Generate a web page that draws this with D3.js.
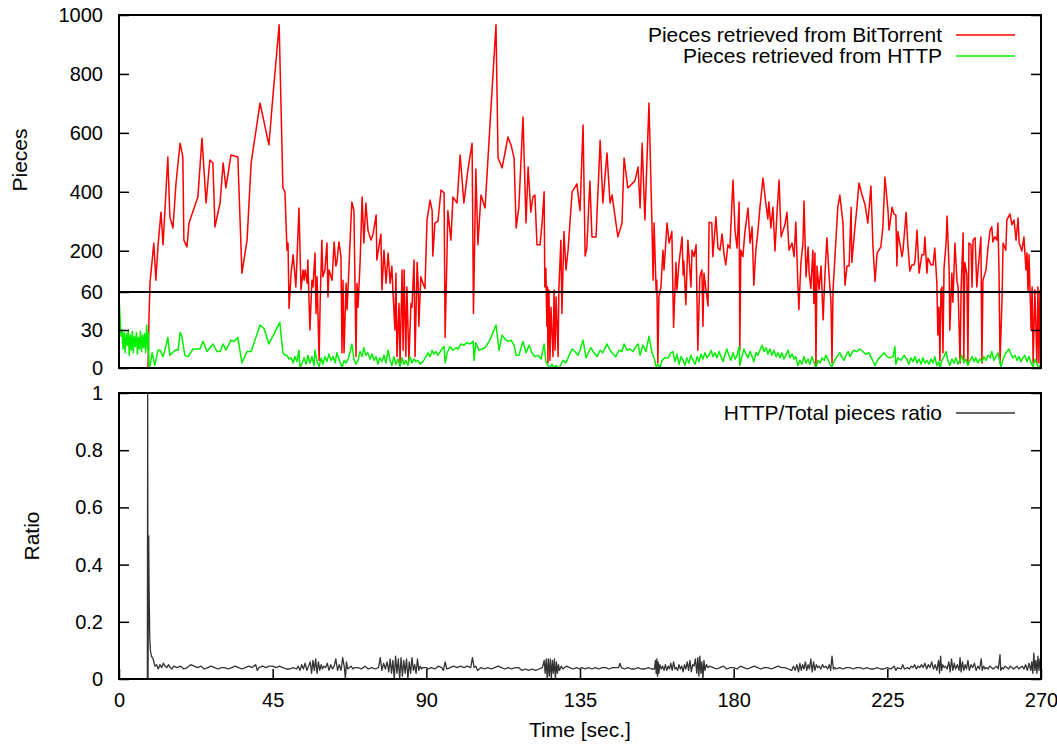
<!DOCTYPE html>
<html>
<head>
<meta charset="utf-8">
<script src="https://cdn.jsdelivr.net/npm/d3@7"></script>
<style>
  html, body { margin: 0; padding: 0; background: #fff; }
  svg { display: block; font-family: "Liberation Sans", Arial, Helvetica, sans-serif; }
</style>
</head>
<body>
<svg id="chart" width="1057" height="744"></svg>
<script>
// ---------------- DATA ----------------
const xTickValues = [0, 45, 90, 135, 180, 225, 270];
const piecesTickValues = [0, 30, 60, 200, 400, 600, 800, 1000];
const ratioTickValues = [0, 0.2, 0.4, 0.6, 0.8, 1];
const legendTop = ["Pieces retrieved from BitTorrent", "Pieces retrieved from HTTP"];
const legendBottom = ["HTTP/Total pieces ratio"];

// [time (sec), pieces]
const bitTorrent = [[0,0],[8.5,0],[8.8,42],[9.1,94],[10.2,226],[10.8,100],[11.4,213],[12.3,331],[12.9,220],[14.3,518],[14.9,315],[15.8,277],[16.7,430],[17.9,565],[18.7,518],[19.0,236],[19.9,213],[20.5,294],[23.1,382],[24.3,582],[25.5,362],[26.6,508],[27.5,498],[28.1,281],[29.6,362],[30.5,498],[31.3,413],[32.8,525],[34.8,518],[36.0,124],[37.5,236],[38.7,498],[41.3,701],[43.9,559],[45.1,728],[46.9,967],[48.0,413],[48.6,400],[49.2,202],[49.5,226],[49.8,47],[50.4,124],[51.0,186],[51.8,77],[52.7,345],[53.3,67],[53.9,135],[54.2,100],[54.5,135],[55.1,90],[55.3,169],[55.9,30],[56.5,100],[56.8,77],[57.4,192],[57.7,43],[58.0,112],[58.6,6],[58.9,51],[59.4,236],[59.7,112],[60.3,135],[60.9,226],[61.2,56],[61.5,135],[62.4,100],[63.0,230],[63.5,148],[63.8,160],[64.4,230],[65.0,180],[65.3,12],[65.6,100],[65.9,12],[66.5,90],[66.8,46],[67.4,160],[67.9,294],[68.2,365],[68.8,336],[69.4,9],[69.7,90],[70.0,48],[70.6,160],[71.2,382],[71.7,226],[72.3,362],[72.9,270],[73.8,236],[74.4,257],[75.3,321],[75.5,169],[76.1,213],[76.7,257],[77.0,67],[77.6,202],[78.2,90],[78.8,192],[79.4,90],[79.9,148],[80.2,67],[80.8,30],[81.1,124],[81.4,9],[82.0,51],[82.3,4],[82.9,135],[83.2,14],[83.5,135],[84.0,9],[84.3,77],[84.9,6],[85.5,51],[85.8,48],[86.4,169],[86.7,9],[87.3,160],[87.6,90],[87.8,33],[88.4,112],[89.0,90],[89.6,72],[90.2,304],[91.1,372],[91.7,336],[91.9,182],[92.5,294],[93.4,300],[94.3,406],[95.2,396],[95.5,24],[96.0,160],[96.3,336],[97.2,236],[97.8,382],[99.0,362],[99.9,525],[101.0,362],[102.2,477],[103.4,565],[103.8,43],[104.5,477],[105.1,220],[106.0,389],[107.2,345],[108.6,620],[110.4,967],[111.0,515],[112.2,481],[113.9,586],[114.8,559],[115.7,515],[116.3,277],[117.1,348],[118.3,654],[119.2,294],[119.8,484],[120.6,331],[121.2,382],[121.8,389],[122.4,220],[123.3,220],[123.9,294],[124.5,400],[124.7,77],[125.0,141],[125.3,33],[125.5,77],[125.6,4],[125.9,67],[126.2,6],[126.5,48],[127.1,9],[127.4,67],[127.7,14],[128.0,56],[128.6,9],[128.8,67],[129.4,236],[129.7,43],[130.3,265],[130.9,135],[131.5,202],[132.7,400],[134.1,427],[135.0,336],[135.9,627],[136.5,182],[137.0,209],[137.9,437],[138.5,247],[139.7,247],[140.9,575],[141.7,362],[142.9,532],[143.8,362],[144.4,389],[145.2,321],[146.1,247],[147.3,294],[147.9,515],[149.0,413],[151.1,437],[152.0,484],[152.6,345],[153.2,565],[154.0,304],[155.2,701],[156.1,281],[156.4,100],[156.7,294],[157.3,60],[157.5,100],[157.8,4],[158.1,56],[158.7,77],[159.3,202],[159.6,135],[160.5,294],[161.1,226],[161.9,265],[162.4,32],[163.1,160],[163.4,67],[164.0,160],[164.9,247],[165.2,118],[165.4,165],[166.0,50],[166.6,236],[167.5,77],[167.8,202],[168.4,180],[169.0,220],[169.5,14],[170.1,112],[170.7,135],[171.0,33],[171.3,124],[171.9,67],[172.5,49],[172.8,297],[173.6,294],[173.9,180],[174.8,315],[175.4,209],[176.0,202],[176.6,257],[177.2,186],[177.7,152],[178.3,220],[178.9,209],[179.8,440],[180.4,270],[181.0,209],[181.6,365],[181.8,14],[182.1,202],[182.7,180],[183.3,265],[184.2,345],[184.8,226],[185.4,281],[185.9,83],[186.5,202],[187.1,265],[187.7,348],[188.6,447],[189.2,382],[190.0,308],[190.3,365],[190.9,277],[191.5,348],[192.1,199],[192.7,331],[193.3,440],[193.9,247],[195.0,288],[195.6,331],[196.2,202],[197.1,226],[197.7,180],[198.2,297],[198.8,90],[199.1,46],[199.7,160],[200.3,226],[200.6,369],[201.2,112],[201.8,213],[202.1,124],[202.6,72],[203.2,202],[203.5,51],[203.8,192],[204.1,1],[204.4,148],[205.0,67],[205.6,148],[206.2,38],[206.7,112],[207.3,244],[207.9,124],[208.5,52],[208.8,4],[209.1,67],[210.0,247],[210.5,348],[211.1,389],[212.0,294],[212.6,83],[213.2,148],[213.8,148],[214.4,348],[214.6,160],[215.5,277],[216.1,348],[216.7,430],[217.6,389],[218.5,355],[219.3,294],[220.2,420],[220.8,213],[221.4,96],[222.0,192],[223.1,213],[223.7,281],[224.3,450],[225.2,336],[225.5,270],[226.4,348],[226.9,325],[227.5,321],[227.8,148],[228.1,265],[229.3,180],[229.6,202],[230.5,331],[231.0,220],[231.6,131],[232.2,152],[232.8,152],[233.1,165],[233.7,270],[234.3,124],[235.1,186],[235.7,186],[236.0,247],[236.6,124],[236.9,175],[237.8,152],[238.4,152],[238.9,209],[239.5,90],[239.8,26],[240.1,48],[240.4,6],[240.7,67],[241.0,77],[241.3,12],[241.6,141],[242.2,226],[242.5,318],[243.1,135],[243.3,30],[243.9,124],[244.2,52],[244.8,226],[245.4,96],[245.7,77],[246.3,4],[246.6,67],[247.2,260],[247.4,6],[247.7,160],[248.3,118],[248.6,4],[248.9,226],[249.5,220],[249.8,77],[250.1,236],[250.7,244],[251.2,77],[251.5,124],[252.4,247],[252.7,4],[253.0,100],[253.9,135],[254.5,213],[255.1,270],[255.6,281],[255.9,230],[256.5,247],[257.1,236],[257.4,294],[257.7,135],[258.0,4],[258.6,56],[258.9,226],[259.7,202],[260.0,304],[260.9,325],[261.5,288],[262.1,304],[262.7,236],[263.3,311],[263.6,226],[264.4,199],[265.0,247],[265.6,135],[265.9,192],[266.2,60],[266.5,186],[267.1,30],[267.4,77],[267.7,4],[268.2,67],[268.8,4],[269.1,77],[269.4,4],[269.7,67]];

// [time (sec), pieces]
const http = [[0,57],[0.3,40],[0.6,25],[0.9,30],[1.2,15],[1.5,28],[1.8,12],[2.1,27],[2.4,18],[2.7,30],[3.0,10],[3.3,26],[3.6,14],[3.9,29],[4.2,12],[4.5,25],[4.8,17],[5.1,28],[5.4,11],[5.7,24],[6.0,15],[6.3,29],[6.6,13],[6.9,26],[7.2,16],[7.5,27],[7.8,12],[8.1,34],[8.4,14],[8.6,28],[8.8,0],[9.1,2],[9.7,12],[10.5,2],[11.4,14],[12.0,14],[12.9,9],[13.8,18],[14.3,24],[14.9,10],[16.4,14],[17.3,14],[17.9,28],[18.4,25],[19.3,10],[20.2,9],[21.7,15],[23.7,15],[24.6,21],[25.8,13],[27.5,19],[28.7,13],[29.6,13],[30.5,19],[31.3,14],[32.8,22],[33.7,21],[34.8,24],[36.0,4],[37.5,13],[38.7,13],[41.3,34],[42.5,31],[43.9,19],[47.1,36],[48.0,12],[48.6,10],[49.2,10],[49.8,7],[50.4,8],[51.0,4],[51.5,9],[52.1,5],[52.7,14],[53.0,0],[53.6,4],[54.2,8],[54.8,3],[55.3,10],[55.9,4],[56.5,9],[57.1,2],[57.4,14],[58.0,5],[58.6,1],[59.2,8],[59.7,3],[60.3,9],[60.9,5],[61.5,11],[62.1,6],[62.7,9],[63.3,4],[63.8,12],[64.4,7],[65.0,3],[65.3,0],[65.9,6],[66.5,4],[67.1,7],[67.6,12],[68.2,19],[68.8,7],[69.4,3],[70.0,6],[70.6,13],[71.2,9],[71.7,16],[72.3,10],[72.9,12],[73.5,7],[74.1,11],[74.7,6],[75.3,9],[75.8,3],[76.4,8],[77.0,5],[77.6,10],[78.2,4],[78.8,14],[79.4,6],[79.9,2],[80.5,9],[81.1,3],[81.7,7],[82.3,1],[82.9,8],[83.5,3],[84.0,6],[84.6,2],[85.2,9],[85.8,4],[86.4,7],[87.0,5],[87.6,6],[88.1,3],[89.0,5],[89.9,9],[90.5,12],[91.1,9],[91.7,14],[92.2,11],[92.8,13],[93.4,10],[94.3,14],[95.2,17],[95.5,4],[96.0,11],[96.9,17],[97.8,14],[98.7,16],[99.3,15],[100.1,19],[101.0,18],[101.9,20],[102.8,19],[103.7,21],[104.0,6],[104.5,20],[105.4,14],[106.3,15],[107.2,16],[108.6,22],[110.4,34],[111.3,14],[112.2,26],[113.0,23],[113.9,21],[114.8,22],[115.7,18],[116.3,10],[117.1,10],[118.3,21],[119.2,12],[120.1,18],[120.9,12],[121.8,9],[122.7,10],[123.6,7],[124.5,19],[125.0,5],[125.6,2],[126.2,0],[126.8,3],[127.4,0],[128.0,2],[128.6,0],[129.1,1],[130.0,6],[130.9,4],[131.8,10],[132.7,15],[133.5,13],[134.4,10],[135.0,14],[135.9,22],[136.8,8],[137.6,13],[138.2,16],[139.1,12],[140.0,9],[140.9,14],[141.7,12],[142.9,19],[143.8,14],[144.7,11],[145.5,9],[146.4,14],[147.3,13],[147.9,19],[148.8,14],[149.6,15],[150.5,13],[151.4,17],[152.0,19],[152.6,10],[153.4,18],[154.3,13],[155.2,25],[156.1,12],[156.7,8],[157.3,1],[157.8,3],[158.4,0],[159.0,6],[159.9,8],[160.8,8],[161.6,12],[162.2,13],[162.8,5],[163.4,11],[164.0,3],[164.6,9],[165.2,6],[165.7,2],[166.3,8],[166.9,4],[167.5,10],[168.1,6],[168.7,3],[169.3,9],[169.9,5],[170.4,11],[171.0,7],[171.6,12],[172.2,8],[172.8,10],[173.4,14],[173.9,9],[174.5,12],[175.1,8],[175.7,13],[176.3,9],[176.9,5],[177.5,11],[178.0,15],[178.6,10],[179.2,6],[179.8,12],[180.4,7],[181.0,10],[181.6,17],[181.8,2],[182.4,9],[183.0,15],[183.6,11],[184.2,8],[184.8,13],[185.4,9],[185.9,5],[186.5,12],[187.1,10],[187.7,14],[188.3,18],[188.9,13],[189.5,16],[190.0,11],[190.6,15],[191.2,10],[191.8,14],[192.4,9],[193.0,12],[193.6,8],[194.1,12],[194.7,7],[195.3,10],[195.9,14],[196.5,8],[197.1,11],[197.7,7],[198.2,9],[198.8,2],[199.4,6],[200.0,3],[200.6,9],[201.2,4],[201.8,7],[202.3,3],[202.9,9],[203.5,5],[204.1,0],[204.7,6],[205.3,4],[205.9,8],[206.5,6],[207.0,10],[207.6,7],[208.2,3],[208.8,1],[209.4,5],[210.0,8],[210.5,10],[211.1,12],[211.7,9],[212.3,6],[212.9,10],[213.5,13],[214.1,9],[214.6,12],[215.2,14],[216.1,13],[216.9,15],[217.8,13],[218.7,11],[219.6,12],[220.5,7],[221.4,2],[222.3,7],[223.1,9],[224.0,12],[224.9,9],[225.8,8],[226.7,9],[227.2,17],[227.5,3],[228.1,8],[229.0,6],[229.9,10],[230.7,7],[231.3,3],[231.9,8],[232.5,5],[233.1,9],[233.7,4],[234.3,7],[234.9,3],[235.4,8],[236.0,4],[236.6,6],[237.2,3],[237.8,7],[238.4,4],[238.9,9],[239.5,2],[240.1,5],[240.4,0],[241.0,6],[241.6,9],[242.2,13],[242.7,6],[243.3,2],[243.9,7],[244.5,4],[245.1,8],[245.7,3],[246.3,6],[246.8,10],[247.4,4],[248.0,7],[248.6,2],[249.2,6],[249.8,9],[250.4,5],[250.9,8],[251.5,4],[252.1,7],[252.7,5],[253.3,9],[253.9,6],[254.5,10],[255.1,8],[255.6,13],[256.2,6],[256.8,9],[257.4,12],[258.0,4],[258.3,1],[258.9,7],[259.7,12],[260.6,15],[261.2,11],[261.8,8],[262.4,10],[263.0,6],[263.6,9],[264.1,5],[264.7,8],[265.3,10],[265.9,5],[266.5,9],[267.1,4],[267.7,1],[268.2,7],[268.8,3],[269.4,0],[270.0,4]];

// [time (sec), HTTP / total ratio]
const ratio = [[0,0],[8.3,0],[8.4,1.0],[8.5,0],[8.7,0.5],[8.8,0.33],[9.0,0.15],[9.2,0.1],[9.5,0.08],[10,0.07],[10.5,0.045],[11,0.05],[11.5,0.035],[12,0.05],[12.5,0.04],[13,0.055],[13.5,0.045],[14,0.04],[14.5,0.05],[15,0.04],[15.5,0.035],[16,0.045],[17,0.04],[18,0.045],[19,0.035],[20,0.04],[21,0.05],[22,0.045],[23,0.04],[24,0.045],[25,0.035],[26,0.04],[27,0.045],[28,0.04],[29,0.035],[30,0.04],[31,0.04],[32,0.035],[33,0.04],[34,0.045],[35,0.04],[36,0.035],[37,0.04],[38,0.045],[39,0.04],[40,0.05],[40.5,0.03],[41,0.04],[42,0.045],[43,0.04],[44,0.045],[45,0.045],[46,0.04],[47,0.045],[48,0.04],[49,0.035],[50,0.035],[51,0.04],[52,0.035],[52.5,0.045],[53,0.03],[53.5,0.05],[54,0.035],[54.5,0.055],[55,0.03],[55.5,0.045],[56,0.06],[56.4,0.02],[56.8,0.065],[57.2,0.03],[57.6,0.07],[58,0.02],[58.4,0.06],[58.8,0.03],[59.2,0.05],[59.6,0.035],[60,0.045],[60.5,0.04],[61,0.055],[61.5,0.03],[62,0.05],[62.5,0.035],[63,0.045],[63.5,0.07],[64,0.03],[64.5,0.05],[65,0.03],[65.5,0.075],[66,0.04],[66.3,0.0],[66.6,0.06],[67,0.035],[67.5,0.04],[68,0.045],[68.5,0.035],[69,0.04],[70,0.04],[71,0.035],[72,0.045],[73,0.035],[74,0.04],[75,0.035],[76,0.04],[76.5,0.075],[77,0.03],[77.5,0.055],[78,0.035],[78.5,0.06],[79,0.025],[79.4,0.07],[79.8,0.02],[80.2,0.065],[80.6,0.0],[81,0.08],[81.4,0.02],[81.8,0.07],[82.2,0.0],[82.6,0.075],[83,0.01],[83.4,0.065],[83.8,0.02],[84.2,0.07],[84.6,0.0],[85,0.06],[85.4,0.02],[85.8,0.075],[86.2,0.03],[86.6,0.05],[87,0.02],[87.4,0.07],[87.8,0.03],[88.2,0.045],[88.6,0.035],[89,0.04],[90,0.04],[90.5,0.035],[91.5,0.04],[92.5,0.035],[93.5,0.045],[94.5,0.04],[95,0.03],[95.5,0.06],[96,0.035],[97,0.04],[98,0.045],[99,0.04],[100,0.045],[101,0.04],[102,0.045],[103,0.04],[103.5,0.075],[104,0.04],[104.5,0.045],[105,0.03],[106,0.04],[107,0.035],[108,0.04],[109,0.035],[110,0.04],[111,0.045],[112,0.04],[113,0.035],[114,0.04],[115,0.035],[116,0.04],[117,0.04],[118,0.03],[119,0.035],[120,0.03],[121,0.035],[122,0.03],[123,0.035],[124,0.04],[124.5,0.065],[124.8,0.02],[125.1,0.07],[125.4,0.0],[125.7,0.07],[126,0.01],[126.3,0.07],[126.6,0.0],[126.9,0.065],[127.2,0.02],[127.5,0.07],[127.8,0.0],[128.1,0.06],[128.4,0.02],[128.7,0.05],[129,0.03],[129.5,0.045],[130,0.035],[130.5,0.04],[131,0.045],[132,0.04],[133,0.035],[134,0.04],[135,0.035],[135.5,0.04],[136.5,0.035],[137.5,0.04],[138.5,0.035],[139.5,0.04],[140.5,0.035],[141.5,0.04],[142.5,0.04],[143.5,0.035],[144.5,0.04],[145.5,0.04],[146.3,0.04],[146.7,0.055],[147.1,0.04],[148,0.035],[149,0.04],[150,0.035],[151,0.035],[152,0.04],[153,0.035],[154,0.035],[155,0.04],[156,0.035],[156.8,0.035],[157.1,0.065],[157.3,0.02],[157.5,0.07],[157.7,0.01],[157.9,0.06],[158.1,0.02],[158.4,0.05],[158.8,0.035],[159.2,0.045],[159.6,0.03],[160,0.05],[160.4,0.03],[160.8,0.045],[161.2,0.035],[161.6,0.055],[162,0.03],[162.4,0.06],[162.8,0.035],[163.2,0.04],[163.6,0.03],[164,0.05],[164.4,0.035],[164.8,0.045],[165.2,0.025],[165.6,0.05],[166,0.035],[166.4,0.06],[166.8,0.03],[167.2,0.065],[167.6,0.025],[168,0.05],[168.4,0.045],[168.8,0.07],[169.2,0.02],[169.5,0.075],[169.8,0.01],[170.1,0.08],[170.4,0.02],[170.7,0.06],[171,0.0],[171.3,0.065],[171.6,0.03],[172,0.05],[172.5,0.04],[173,0.045],[174,0.04],[175,0.035],[176,0.04],[177,0.045],[178,0.035],[179,0.04],[180,0.04],[181,0.035],[182,0.045],[183,0.04],[184,0.035],[185,0.04],[186,0.045],[187,0.04],[188,0.035],[189,0.04],[190,0.04],[191,0.035],[192,0.04],[193,0.045],[194,0.04],[195,0.04],[196,0.035],[197,0.03],[197.5,0.045],[198,0.03],[198.5,0.05],[199,0.025],[199.4,0.055],[199.8,0.03],[200.2,0.05],[200.6,0.035],[201,0.06],[201.4,0.03],[201.8,0.05],[202.2,0.035],[202.6,0.07],[203,0.025],[203.4,0.06],[203.8,0.03],[204.2,0.05],[204.6,0.04],[205,0.045],[205.5,0.035],[206,0.05],[206.5,0.04],[207,0.045],[207.5,0.035],[208,0.05],[208.4,0.03],[208.8,0.08],[209.2,0.035],[209.6,0.04],[210,0.035],[211,0.04],[212,0.035],[213,0.04],[214,0.04],[215,0.035],[216,0.04],[217,0.04],[218,0.035],[219,0.04],[220,0.035],[221,0.035],[222,0.04],[223,0.035],[224,0.035],[225,0.04],[226,0.035],[227,0.045],[227.5,0.03],[228,0.04],[229,0.035],[229.5,0.05],[230,0.035],[231,0.04],[231.5,0.035],[232,0.045],[232.5,0.04],[233,0.05],[233.5,0.035],[234,0.045],[234.5,0.04],[235,0.05],[235.5,0.04],[236,0.055],[236.5,0.035],[237,0.05],[237.5,0.04],[238,0.06],[238.5,0.035],[239,0.05],[239.5,0.03],[240,0.065],[240.3,0.02],[240.6,0.08],[240.9,0.03],[241.2,0.05],[241.6,0.04],[242,0.045],[242.5,0.035],[243,0.06],[243.4,0.025],[243.8,0.07],[244.2,0.03],[244.6,0.055],[245,0.035],[245.5,0.05],[246,0.03],[246.3,0.075],[246.6,0.025],[247,0.06],[247.4,0.03],[247.8,0.05],[248.2,0.035],[248.6,0.065],[249,0.03],[249.5,0.05],[250,0.04],[250.5,0.055],[251,0.03],[251.5,0.045],[252,0.035],[252.5,0.07],[252.8,0.03],[253.2,0.045],[253.6,0.035],[254,0.04],[254.5,0.035],[255,0.045],[255.5,0.04],[256,0.035],[256.5,0.04],[257,0.045],[257.5,0.035],[258,0.085],[258.2,0.03],[258.6,0.04],[259,0.035],[259.5,0.045],[260,0.04],[260.5,0.035],[261,0.045],[261.5,0.04],[262,0.035],[262.5,0.04],[263,0.045],[263.5,0.035],[264,0.04],[264.5,0.045],[265,0.035],[265.5,0.05],[266,0.03],[266.5,0.055],[267,0.03],[267.3,0.06],[267.6,0.02],[267.9,0.09],[268.2,0.03],[268.5,0.065],[268.8,0.02],[269.1,0.08],[269.4,0.03],[269.7,0.07],[270,0.04]];

// ---------------- CHART ----------------
const svg = d3.select("#chart");
const TICK_FONT = 20;
const FONT = 21;
const left = 119, right = 1041;
const topPanel = {y0: 15, y1: 368};
const botPanel = {y0: 393, y1: 679};

const x = d3.scaleLinear().domain([0, 270]).range([left, right]);
const yTop = d3.scaleLinear().domain([0, 60, 1000]).range([topPanel.y1, 292, topPanel.y0]);
const yBot = d3.scaleLinear().domain([0, 1]).range([botPanel.y1, botPanel.y0]);

const defs = svg.append("defs");
defs.append("clipPath").attr("id", "clipTop").append("rect")
  .attr("x", left).attr("y", topPanel.y0).attr("width", right - left).attr("height", topPanel.y1 - topPanel.y0);
defs.append("clipPath").attr("id", "clipBot").append("rect")
  .attr("x", left).attr("y", botPanel.y0).attr("width", right - left).attr("height", botPanel.y1 - botPanel.y0);

// ---- top panel ----
const gTop = svg.append("g");
const lineTop = d3.line().x(d => x(d[0])).y(d => yTop(d[1]));
gTop.append("path").datum(bitTorrent).attr("d", lineTop)
  .attr("fill", "none").attr("stroke", "#ff0000").attr("stroke-width", 1.5)
  .attr("stroke-linejoin", "round").attr("clip-path", "url(#clipTop)");
gTop.append("path").datum(http).attr("d", lineTop)
  .attr("fill", "none").attr("stroke", "#00f000").attr("stroke-width", 1.5)
  .attr("stroke-linejoin", "round").attr("clip-path", "url(#clipTop)");

// 60-pieces reference line
gTop.append("line").attr("x1", left).attr("x2", right)
  .attr("y1", yTop(60)).attr("y2", yTop(60)).attr("stroke", "#000").attr("stroke-width", 2);

gTop.append("g").attr("transform", `translate(${left},0)`)
  .call(d3.axisLeft(yTop).tickValues(piecesTickValues).tickSize(-10).tickPadding(16).tickFormat(d3.format("d")));
gTop.append("g").attr("transform", `translate(${right},0)`)
  .call(d3.axisRight(yTop).tickValues(piecesTickValues).tickSize(-10).tickFormat(""));

gTop.append("rect").attr("x", left).attr("y", topPanel.y0)
  .attr("width", right - left).attr("height", topPanel.y1 - topPanel.y0)
  .attr("fill", "none").attr("stroke", "#000").attr("stroke-width", 2);

// ---- bottom panel ----
const gBot = svg.append("g");
const lineBot = d3.line().x(d => x(d[0])).y(d => yBot(d[1]));
gBot.append("path").datum(ratio).attr("d", lineBot)
  .attr("fill", "none").attr("stroke", "#333").attr("stroke-width", 1.3)
  .attr("stroke-linejoin", "round").attr("clip-path", "url(#clipBot)");

gBot.append("g").attr("transform", `translate(${left},0)`)
  .call(d3.axisLeft(yBot).tickValues(ratioTickValues).tickSize(-10).tickPadding(16).tickFormat(d3.format("")));
gBot.append("g").attr("transform", `translate(${right},0)`)
  .call(d3.axisRight(yBot).tickValues(ratioTickValues).tickSize(-10).tickFormat(""));
gBot.append("g").attr("transform", `translate(0,${botPanel.y1})`)
  .call(d3.axisBottom(x).tickValues(xTickValues).tickSize(-10).tickPadding(14));

gBot.append("rect").attr("x", left).attr("y", botPanel.y0)
  .attr("width", right - left).attr("height", botPanel.y1 - botPanel.y0)
  .attr("fill", "none").attr("stroke", "#000").attr("stroke-width", 2);

// axis styling
svg.selectAll(".domain").remove();
svg.selectAll(".tick line").attr("stroke", "#000").attr("stroke-width", 1.5);
svg.selectAll(".tick text").attr("font-size", TICK_FONT).attr("fill", "#000")
  .attr("font-family", "'Liberation Sans', Arial, sans-serif");

// ---- titles ----
svg.append("text").attr("transform", `translate(27,160) rotate(-90)`)
  .attr("text-anchor", "middle").attr("font-size", FONT).text("Pieces");
svg.append("text").attr("transform", `translate(39,536) rotate(-90)`)
  .attr("text-anchor", "middle").attr("font-size", FONT).text("Ratio");
svg.append("text").attr("x", 580).attr("y", 737)
  .attr("text-anchor", "middle").attr("font-size", FONT).text("Time [sec.]");

// ---- legends ----
const legColorsTop = ["#ff0000", "#00f000"];
legendTop.forEach((label, i) => {
  const yy = 35 + i * 21;
  svg.append("text").attr("x", 942).attr("y", yy).attr("dy", "0.35em")
    .attr("text-anchor", "end").attr("font-size", FONT).text(label);
  svg.append("line").attr("x1", 956).attr("x2", 1015).attr("y1", yy).attr("y2", yy)
    .attr("stroke", legColorsTop[i]).attr("stroke-width", 1.5);
});
legendBottom.forEach((label) => {
  const yy = 413;
  svg.append("text").attr("x", 942).attr("y", yy).attr("dy", "0.35em")
    .attr("text-anchor", "end").attr("font-size", FONT).text(label);
  svg.append("line").attr("x1", 956).attr("x2", 1015).attr("y1", yy).attr("y2", yy)
    .attr("stroke", "#333").attr("stroke-width", 1.3);
});
</script>
</body>
</html>
